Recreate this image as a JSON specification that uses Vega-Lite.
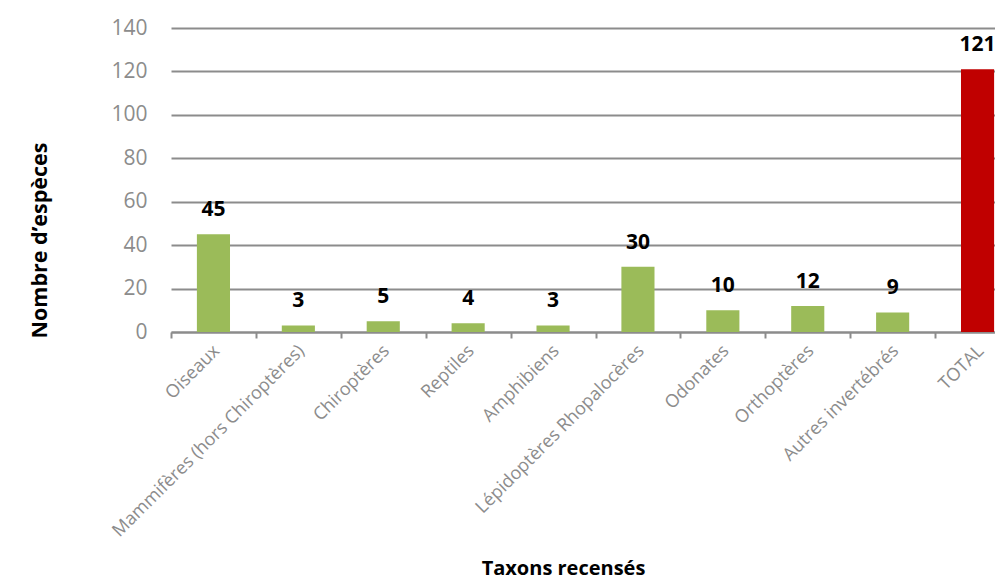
{
  "$schema": "https://vega.github.io/schema/vega-lite/v6.json",
  "autosize": {"type": "none"},
  "width": 824,
  "height": 304,
  "padding": {"left": 171, "top": 28, "right": 0, "bottom": 248},
  "background": "white",
  "config": {"view": {"stroke": null}, "font": "Open Sans"},
  "data": {"values": [
    {"taxon": "Oiseaux", "n": 45},
    {"taxon": "Mammifères (hors Chiroptères)", "n": 3},
    {"taxon": "Chiroptères", "n": 5},
    {"taxon": "Reptiles", "n": 4},
    {"taxon": "Amphibiens", "n": 3},
    {"taxon": "Lépidoptères Rhopalocères", "n": 30},
    {"taxon": "Odonates", "n": 10},
    {"taxon": "Orthoptères", "n": 12},
    {"taxon": "Autres invertébrés", "n": 9},
    {"taxon": "TOTAL", "n": 121}
  ]},
  "encoding": {
    "x": {
      "field": "taxon", "type": "nominal", "sort": null,
      "scale": {"range": [0, 849], "paddingInner": 0, "paddingOuter": 0},
      "axis": {
        "title": "Taxons recensés",
        "titleFont": "Open Sans", "titleFontSize": 20, "titleFontWeight": "bold", "titleColor": "#000000",
        "titleX": 392, "titleY": 236, "titleAlign": "center", "titleBaseline": "middle",
        "labelAngle": -45, "labelAlign": "right", "labelBaseline": "middle",
        "labelFontSize": 18, "labelColor": "#8c8c8c", "labelPadding": 10, "labelOffset": 3,
        "labelOverlap": false, "labelLimit": 400,
        "domainColor": "#8c8c8c", "domainWidth": 2,
        "tickColor": "#8c8c8c", "tickWidth": 2, "tickSize": 6, "tickBand": "extent",
        "grid": false
      }
    },
    "y": {
      "field": "n", "type": "quantitative",
      "scale": {"domain": [0, 140], "nice": false},
      "axis": {
        "title": "Nombre d’espèces",
        "titleFont": "Open Sans", "titleFontSize": 21.5, "titleFontWeight": "bold", "titleColor": "#000000",
        "titleAngle": -90, "titleX": -131, "titleY": 212, "titleAlign": "center", "titleBaseline": "middle",
        "values": [0, 20, 40, 60, 80, 100, 120, 140],
        "labelFontSize": 21, "labelColor": "#8c8c8c", "labelPadding": 24,
        "domain": false, "ticks": false,
        "grid": true, "gridColor": "#8c8c8c", "gridWidth": 2
      }
    }
  },
  "layer": [
    {
      "mark": {"type": "bar", "width": {"band": 0.39}},
      "encoding": {
        "color": {
          "condition": {"test": "datum.taxon === 'TOTAL'", "value": "#C00000"},
          "value": "#9BBB59"
        }
      }
    },
    {
      "mark": {"type": "text", "baseline": "alphabetic", "dy": -18, "fontSize": 21, "fontWeight": "bold", "color": "#000000"},
      "encoding": {"text": {"field": "n", "type": "quantitative"}}
    }
  ]
}
